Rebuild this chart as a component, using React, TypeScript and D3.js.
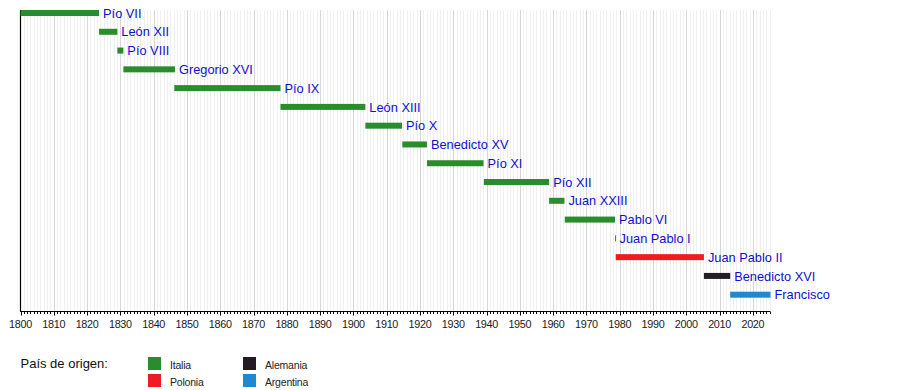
import React, { useRef, useEffect } from 'react';
import * as d3 from 'd3';

const popes = [
  'Pío VII', 'León XII', 'Pío VIII', 'Gregorio XVI', 'Pío IX', 'León XIII', 'Pío X',
  'Benedicto XV', 'Pío XI', 'Pío XII', 'Juan XXIII', 'Pablo VI', 'Juan Pablo I',
  'Juan Pablo II', 'Benedicto XVI', 'Francisco'
];
const startYears = [
  1800.0, 1823.6, 1829.1, 1830.9, 1846.2, 1878.1, 1903.6,
  1914.7, 1922.1, 1939.2, 1958.8, 1963.5, 1978.6,
  1978.8, 2005.3, 2013.2
];
const endYears = [
  1823.6, 1829.1, 1830.9, 1846.4, 1878.1, 1903.6, 1914.6,
  1922.1, 1939.1, 1958.8, 1963.4, 1978.6, 1978.75,
  2005.3, 2013.2, 2025.3
];
const countries = [
  'Italia', 'Italia', 'Italia', 'Italia', 'Italia', 'Italia', 'Italia',
  'Italia', 'Italia', 'Italia', 'Italia', 'Italia', 'Italia',
  'Polonia', 'Alemania', 'Argentina'
];
const legendCountries = ['Italia', 'Polonia', 'Alemania', 'Argentina'];
const countryColors = ['#2a8c2a', '#ec1c24', '#231c24', '#1e88d0'];

const App: React.FC = () => {
  const chartRef = useRef<SVGSVGElement | null>(null);

  useEffect(() => {
    if (!chartRef.current) return;
    const svg = d3.select(chartRef.current);
    svg.selectAll('*').remove();

    const width = 900;
    const height = 390;
    svg.attr('width', width).attr('height', height);

    const top = 10;
    const bottom = 311.5;
    const font = 'Liberation Sans, Arial, sans-serif';

    const x = d3.scaleLinear().domain([1800, 2025]).range([20.5, 769.5]);
    const y = d3.scalePoint<string>().domain(popes).range([13, 294.7]);
    const color = d3.scaleOrdinal<string, string>().domain(legendCountries).range(countryColors);

    const years = d3.range(1800, 2026);

    // Grid
    svg.append('g')
      .selectAll('line')
      .data(years.filter(yr => yr > 1800))
      .join('line')
      .attr('x1', d => Math.round(x(d)) + 0.5)
      .attr('x2', d => Math.round(x(d)) + 0.5)
      .attr('y1', top)
      .attr('y2', bottom)
      .attr('stroke', d => d % 10 === 0 ? '#d6d6d6' : '#f0f0f0')
      .attr('stroke-width', 1);

    // Left axis line
    svg.append('line')
      .attr('x1', 20.5).attr('x2', 20.5)
      .attr('y1', top).attr('y2', bottom)
      .attr('stroke', '#000').attr('stroke-width', 1.2);

    // Bottom axis
    svg.append('line')
      .attr('x1', 20).attr('x2', 770)
      .attr('y1', bottom).attr('y2', bottom)
      .attr('stroke', '#000').attr('stroke-width', 1.2);

    svg.append('g')
      .selectAll('line')
      .data(years)
      .join('line')
      .attr('x1', d => Math.round(x(d)) + 0.5)
      .attr('x2', d => Math.round(x(d)) + 0.5)
      .attr('y1', bottom)
      .attr('y2', d => d % 10 === 0 ? bottom + 4 : bottom + 2.5)
      .attr('stroke', '#000')
      .attr('stroke-width', 1);

    svg.append('g')
      .selectAll('text')
      .data(years.filter(yr => yr % 10 === 0))
      .join('text')
      .attr('x', d => x(d))
      .attr('y', 328)
      .attr('text-anchor', 'middle')
      .attr('font-family', font)
      .attr('font-size', 10.8)
      .attr('letter-spacing', -0.3)
      .attr('fill', '#1a1a1a')
      .text(d => d);

    // Bars
    const rows = popes.map((name, i) => ({
      name,
      start: startYears[i],
      end: endYears[i],
      country: countries[i]
    }));

    svg.append('g')
      .selectAll('rect')
      .data(rows)
      .join('rect')
      .attr('x', d => x(d.start))
      .attr('y', d => (y(d.name) || 0) - 3)
      .attr('width', d => Math.max(1, x(d.end) - x(d.start)))
      .attr('height', 6)
      .attr('fill', d => color(d.country));

    svg.append('g')
      .selectAll('text')
      .data(rows)
      .join('text')
      .attr('x', d => x(d.end) + 4)
      .attr('y', d => (y(d.name) || 0))
      .attr('dy', '0.36em')
      .attr('font-family', font)
      .attr('font-size', 12.8)
      .attr('fill', '#1010cc')
      .text(d => d.name);

    // Legend
    svg.append('text')
      .attr('x', 20.5)
      .attr('y', 368)
      .attr('font-family', font)
      .attr('font-size', 13)
      .attr('fill', '#111')
      .text('País de origen:');

    const legend = svg.append('g')
      .selectAll('g')
      .data(legendCountries)
      .join('g')
      .attr('transform', (d, i) => `translate(${148 + Math.floor(i / 2) * 95},${357 + (i % 2) * 17})`);

    legend.append('rect')
      .attr('width', 13)
      .attr('height', 13)
      .attr('fill', d => color(d));

    legend.append('text')
      .attr('x', 22)
      .attr('y', 11.5)
      .attr('font-family', font)
      .attr('font-size', 10.5)
      .attr('letter-spacing', -0.2)
      .attr('fill', '#222')
      .text(d => d);
  }, []);

  return (
    <svg ref={chartRef} style={{ position: 'absolute', left: 0, top: 0 }} />
  );
};

export default App;
